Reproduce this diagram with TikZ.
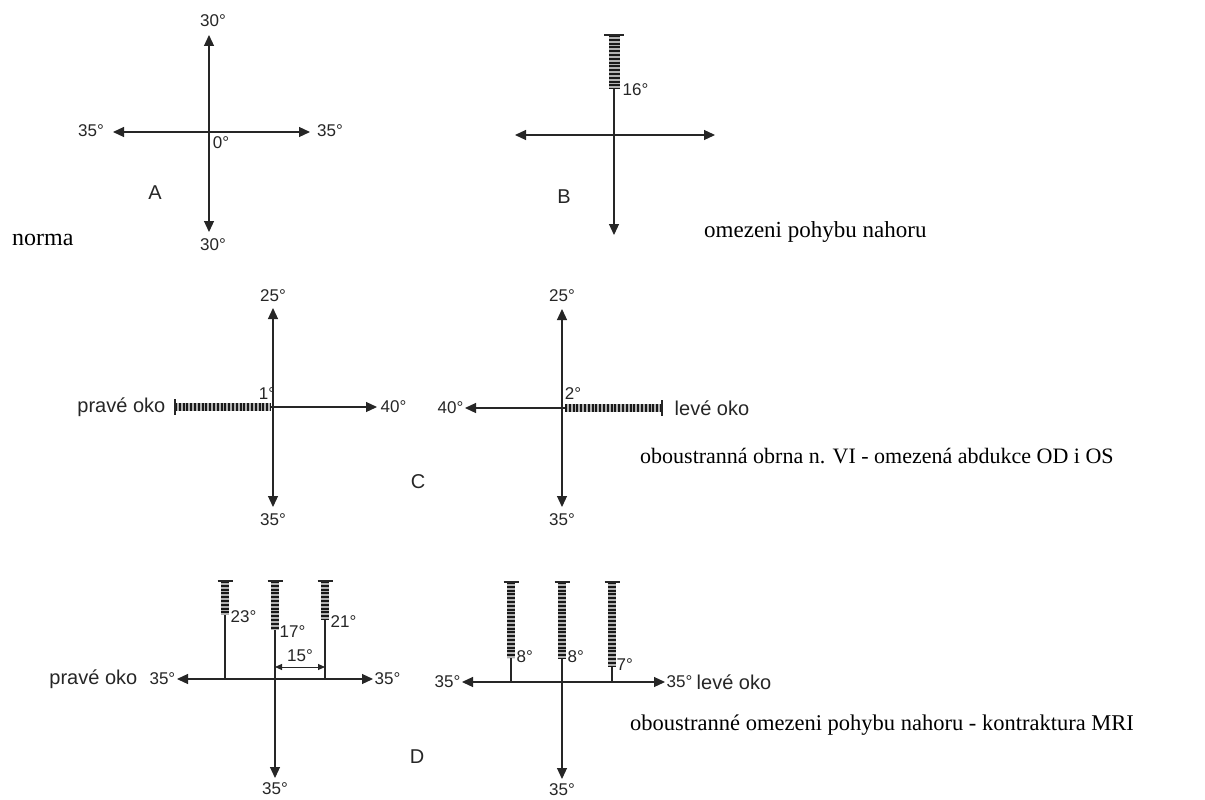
\documentclass[tikz,border=0pt]{standalone}
\usepackage{fontspec}
\newfontfamily\lsans{Liberation Sans}
\newfontfamily\lserif{Liberation Serif}
\usetikzlibrary{arrows.meta}
\tikzset{
  axis/.style={line width=1.2pt, draw=black!85, -{Triangle[length=11pt,width=10pt]}},
  plain/.style={line width=1.2pt, draw=black!85},
  ladderbg/.style={line width=#1, draw=black!30},
  ladder/.style={line width=#1, draw=black!90, dash pattern=on 2pt off 1.8pt},
  tbar/.style={line width=2pt, draw=black!85},
  dim/.style={line width=1pt, draw=black!85, {Triangle[length=7pt,width=6pt]}-{Triangle[length=7pt,width=6pt]}},
  lbl/.style={font=\lsans\fontsize{17}{17}\selectfont, text=black!85, inner sep=0.5pt},
  word/.style={font=\lsans\fontsize{20}{20}\selectfont, text=black!85, inner sep=0.5pt},
  note/.style={font=\lserif\fontsize{#1}{#1}\selectfont, text=black, inner sep=0pt, anchor=west}
}
\begin{document}
\begin{tikzpicture}[x=1pt,y=-1pt]
\useasboundingbox (0,0) rectangle (1205,800);
\fill[white] (0,0) rectangle (1205,800);

% ---------------- A ----------------
\coordinate (Ac) at (209,132);
\coordinate (At) at (209,35);
\coordinate (Ab) at (209,232);
\coordinate (Al) at (113,132);
\coordinate (Ar) at (310,132);
\draw[axis] (Ac) -- (At);
\draw[axis] (Ac) -- (Ab);
\draw[axis] (Ac) -- (Al);
\draw[axis] (Ac) -- (Ar);
\node[lbl] (A30t) at (213,21) {30°};
\node[lbl] (A35l) at (91,131) {35°};
\node[lbl] (A35r) at (330,131) {35°};
\node[lbl] (A0) at (221,143) {0°};
\node[word] (Alab) at (155,193) {A};
\node[lbl] (A30b) at (213,245) {30°};
\node[note=24] (norma) at (12,240) {norma};

% ---------------- B ----------------
\coordinate (Bc) at (614,135);
\coordinate (Btop) at (614,35);
\coordinate (Bh) at (614,89);
\coordinate (Bbl) at (604,35);
\coordinate (Bbr) at (624,35);
\coordinate (Bb) at (614,235);
\coordinate (Bl) at (515,135);
\coordinate (Br) at (715,135);
\draw[plain] (Btop) -- (Bc);
\draw[ladderbg=11pt] (Btop) -- (Bh);
\draw[ladder=11pt] (Btop) -- (Bh);
\draw[tbar] (Bbl) -- (Bbr);
\draw[axis] (Bc) -- (Bb);
\draw[axis] (Bc) -- (Bl);
\draw[axis] (Bc) -- (Br);
\node[lbl, anchor=west] (B16) at (622,90) {16°};
\node[word] (Blab) at (564,197) {B};
\node[note=23] (Bnote) at (704,232) {omezeni pohybu nahoru};

% ---------------- C left ----------------
\coordinate (CLc) at (273,407);
\coordinate (CLt) at (273,308);
\coordinate (CLb) at (273,507);
\coordinate (CLr) at (377,407);
\coordinate (CLl) at (175,407);
\coordinate (CLh) at (271,407);
\coordinate (CLbt) at (175,399);
\coordinate (CLbb) at (175,415);
\draw[plain] (CLl) -- (CLc);
\draw[ladderbg=8pt] (CLl) -- (CLh);
\draw[ladder=8pt] (CLl) -- (CLh);
\draw[tbar] (CLbt) -- (CLbb);
\draw[axis] (CLc) -- (CLt);
\draw[axis] (CLc) -- (CLb);
\draw[axis] (CLc) -- (CLr);
\node[lbl] (CL25) at (273,296) {25°};
\node[lbl] (CL35) at (273,520) {35°};
\node[lbl, anchor=west] (CL40) at (380,407) {40°};
\node[lbl] (CL1) at (267,394) {1°};
\node[word, anchor=east] (CLeye) at (166,407) {pravé oko};
\node[word] (Clab) at (418,482) {C};

% ---------------- C right ----------------
\coordinate (CRc) at (562,408);
\coordinate (CRt) at (562,309);
\coordinate (CRb) at (562,507);
\coordinate (CRl) at (465,408);
\coordinate (CRh) at (565,408);
\coordinate (CRr) at (662,408);
\coordinate (CRbt) at (662,400);
\coordinate (CRbb) at (662,416);
\draw[plain] (CRc) -- (CRr);
\draw[ladderbg=8pt] (CRh) -- (CRr);
\draw[ladder=8pt] (CRh) -- (CRr);
\draw[tbar] (CRbt) -- (CRbb);
\draw[axis] (CRc) -- (CRt);
\draw[axis] (CRc) -- (CRb);
\draw[axis] (CRc) -- (CRl);
\node[lbl] (CR25) at (562,296) {25°};
\node[lbl] (CR35) at (562,520) {35°};
\node[lbl, anchor=east] (CR40) at (464,408) {40°};
\node[lbl] (CR2) at (573,394) {2°};
\node[word, anchor=west] (CReye) at (674,408) {levé oko};
\node[note=22] (Cnote) at (640,456) {oboustranná obrna n. VI - omezená abdukce OD i OS};

% ---------------- D left ----------------
\coordinate (DLc) at (275,679);
\coordinate (DLt) at (275,581);
\coordinate (DLh) at (275,630);
\coordinate (DLb) at (275,778);
\coordinate (DLl) at (177,679);
\coordinate (DLr) at (373,679);
\coordinate (DLat) at (225,581);
\coordinate (DLah) at (225,615);
\coordinate (DLab) at (225,679);
\coordinate (DLbt) at (325,581);
\coordinate (DLbh) at (325,620);
\coordinate (DLbb) at (325,679);
\coordinate (DLd1) at (275,667);
\coordinate (DLd2) at (325,667);
\foreach \t/\h/\b in {DLt/DLh/DLc, DLat/DLah/DLab, DLbt/DLbh/DLbb}{
  \draw[plain] (\t) -- (\b);
  \draw[ladderbg=8pt] (\t) -- (\h);
  \draw[ladder=8pt] (\t) -- (\h);
  \draw[tbar] ([xshift=-7.5pt]\t) -- ([xshift=7.5pt]\t);
}
\draw[axis] (DLc) -- (DLb);
\draw[axis] (DLc) -- (DLl);
\draw[axis] (DLc) -- (DLr);
\draw[dim] (DLd1) -- (DLd2);
\node[lbl] (DL15) at (300,656) {15°};
\node[lbl, anchor=west] (DL23) at (230,617) {23°};
\node[lbl, anchor=west] (DL17) at (279,632) {17°};
\node[lbl, anchor=west] (DL21) at (330,622) {21°};
\node[lbl, anchor=east] (DL35l) at (176,679) {35°};
\node[lbl, anchor=west] (DL35r) at (374,679) {35°};
\node[word, anchor=east] (DLeye) at (138,679) {pravé oko};
\node[word] (Dlab) at (417,757) {D};
\node[lbl] (DL35b) at (275,789) {35°};

% ---------------- D right ----------------
\coordinate (DRc) at (562,682);
\coordinate (DRt) at (562,582);
\coordinate (DRh) at (562,659);
\coordinate (DRb) at (562,779);
\coordinate (DRl) at (462,682);
\coordinate (DRr) at (665,682);
\coordinate (DRat) at (511,582);
\coordinate (DRah) at (511,658);
\coordinate (DRab) at (511,682);
\coordinate (DRbt) at (612,582);
\coordinate (DRbh) at (612,667);
\coordinate (DRbb) at (612,682);
\foreach \t/\h/\b in {DRt/DRh/DRc, DRat/DRah/DRab, DRbt/DRbh/DRbb}{
  \draw[plain] (\t) -- (\b);
  \draw[ladderbg=8pt] (\t) -- (\h);
  \draw[ladder=8pt] (\t) -- (\h);
  \draw[tbar] ([xshift=-7.5pt]\t) -- ([xshift=7.5pt]\t);
}
\draw[axis] (DRc) -- (DRb);
\draw[axis] (DRc) -- (DRl);
\draw[axis] (DRc) -- (DRr);
\node[lbl, anchor=west] (DR8a) at (516,657) {8°};
\node[lbl, anchor=west] (DR8b) at (567,657) {8°};
\node[lbl, anchor=west] (DR7) at (616,665) {7°};
\node[lbl, anchor=east] (DR35l) at (461,682) {35°};
\node[lbl, anchor=west] (DR35r) at (666,682) {35°};
\node[word, anchor=west] (DReye) at (696,682) {levé oko};
\node[lbl] (DR35b) at (562,790) {35°};
\node[note=22.5] (Dnote) at (630,725) {oboustranné omezeni pohybu nahoru - kontraktura MRI};
\end{tikzpicture}
\end{document}
